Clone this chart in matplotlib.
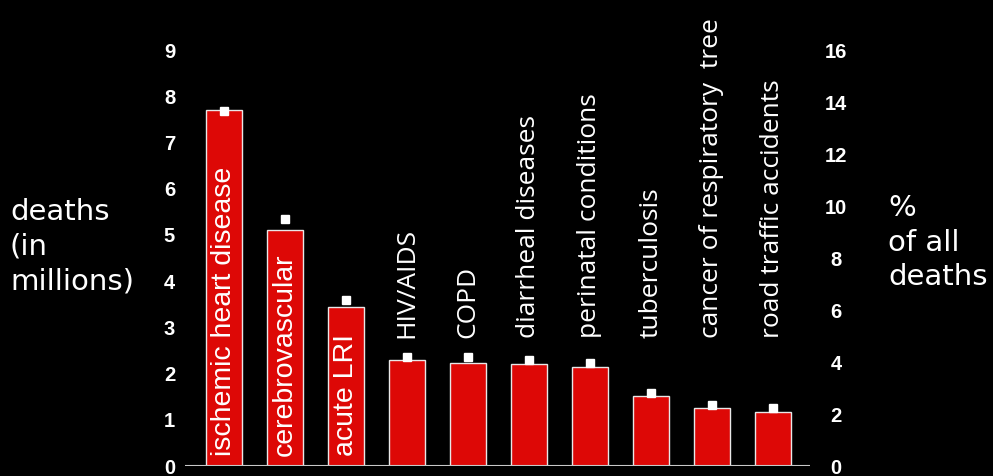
import matplotlib.pyplot as plt

# leading causes of death: deaths in millions and share of all deaths (%)
causes = ["ischemic heart disease", "cerebrovascular", "acute LRI", "HIV/AIDS",
          "COPD", "diarrheal diseases", "perinatal conditions", "tuberculosis",
          "cancer of respiratory  tree", "road traffic accidents"]
deaths = [7.70, 5.10, 3.45, 2.29, 2.23, 2.21, 2.15, 1.51, 1.25, 1.16]
percent = [13.67, 9.5, 6.4, 4.18, 4.18, 4.08, 3.98, 2.79, 2.33, 2.23]
inside = [True, True, True, False, False, False, False, False, False, False]

left_ticks = list(range(0, 10))
right_ticks = list(range(0, 17, 2))

red = "#dd0806"
fig = plt.figure(figsize=(9.93, 4.76), dpi=100, facecolor="black")
ax = fig.add_axes([185 / 993, 10 / 476, 625 / 993, 416 / 476])
ax.set_facecolor("black")

x = list(range(len(causes)))
ax.bar(x, deaths, width=0.59, color=red, edgecolor="#e8e8e8", linewidth=1.0, zorder=2)
ax.set_xlim(-0.64, 9.61)
ax.set_ylim(0, 9)
ax.axhline(0, color="#c8c8c8", linewidth=1.5, zorder=3)

for s in ax.spines.values():
    s.set_visible(False)
ax.set_xticks([])
ax.set_yticks(left_ticks)
ax.tick_params(axis="y", length=0, colors="white")
for lab in ax.get_yticklabels():
    lab.set_fontweight("bold")
    lab.set_fontsize(14.5)
    lab.set_fontfamily("Liberation Sans")
    lab.set_horizontalalignment("center")
    lab.set_x(-0.017)

ax2 = ax.twinx()
ax2.set_ylim(0, 16)
ax2.plot(x, percent, linestyle="none", marker="s", markersize=6,
         color="white", zorder=4)
for s in ax2.spines.values():
    s.set_visible(False)
ax2.set_yticks(right_ticks)
ax2.tick_params(axis="y", length=0, colors="white")
for lab in ax2.get_yticklabels():
    lab.set_fontweight("bold")
    lab.set_fontsize(14.5)
    lab.set_fontfamily("Liberation Sans")
    lab.set_horizontalalignment("center")
    lab.set_x(1.034)

# cause labels: inside the tall bars, above the short ones
for xi, name, inner in zip(x, causes, inside):
    if inner:
        ax.text(xi, 0.22, name, rotation=90, ha="center", va="bottom",
                color="white", fontsize=20.5, family="Liberation Sans", zorder=5)
    else:
        ax.text(xi, 2.78, name, rotation=90, ha="center", va="bottom",
                color="white", fontsize=19, family="Open Sans", zorder=5)

fig.text(10 / 993, 1 - 198 / 476, "deaths\n(in\nmillions)", color="white",
         fontsize=21, family="DejaVu Sans", va="top", ha="left", linespacing=1.3)
fig.text(888 / 993, 1 - 194 / 476, "%\nof all\ndeaths", color="white",
         fontsize=21, family="DejaVu Sans", va="top", ha="left", linespacing=1.3)

fig.savefig("out.png", dpi=100, facecolor="black")
